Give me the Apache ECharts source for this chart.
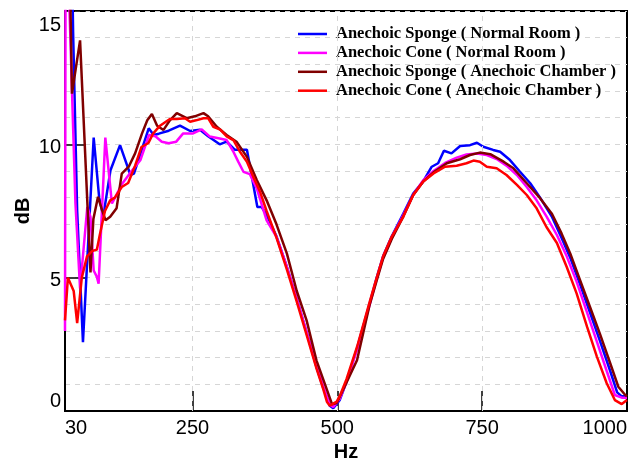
<!DOCTYPE html>
<html>
<head>
<meta charset="utf-8">
<script src="https://cdn.jsdelivr.net/npm/echarts@6/dist/echarts.min.js"></script>
<style>
html,body{margin:0;padding:0;background:#fff;}
#chart{width:636px;height:459px;}
</style>
</head>
<body>
<div id="chart"></div>
<script>
// ---- data (Hz, dB) ----
const seriesNames = [
  'Anechoic Sponge ( Normal Room )',
  'Anechoic Cone ( Normal Room )',
  'Anechoic Sponge ( Anechoic Chamber )',
  'Anechoic Cone ( Anechoic Chamber )'
];
const seriesColors = ['#0000ff', '#ff00ff', '#800000', '#ff0000'];
const xLabelValues = [30, 250, 500, 750, 1000];
const xTickValues = [250, 500, 750];

const spongeNormalRoom = [[30,17],[42,17],[44,14.2],[51,7.5],[61,2.58],[79.5,10.25],[89,8.0],[96,7.3],[108.5,9.03],[111,9.0],[125,9.97],[143,8.85],[149,8.9],[174.5,10.6],[183,10.35],[192,10.4],[209,10.51],[228.5,10.7],[246,10.5],[263,10.55],[277,10.3],[297,10.0],[309,10.1],[323,9.8],[344,9.8],[347,9.75],[362,7.65],[369.5,7.65],[378,7.35],[395,6.55],[413,5.4],[430,4.2],[447,2.95],[464,1.65],[476,0.85],[487,0.2],[493,0.1],[504,0.4],[516,1.1],[534,2.35],[556,4.05],[568,5.0],[579,5.8],[594,6.55],[614,7.4],[631,8.15],[648,8.6],[663,9.16],[674,9.29],[684,9.76],[697,9.66],[712,9.94],[729,9.97],[741,10.06],[752,9.91],[769,9.79],[781,9.72],[798,9.41],[815,8.98],[833,8.54],[850,8.0],[870,7.3],[887,6.5],[902,5.75],[919,4.75],[936,3.7],[953,2.65],[971,1.5],[983,0.7],[991,0.55],[1000,0.55]];

const coneNormalRoom = [[30,3.0],[31,17],[35,17],[48,7.8],[56,4.6],[68.5,7.65],[74,7.28],[79.5,5.27],[85,5.03],[88,4.77],[99.6,10.25],[111,7.78],[117,8.03],[128,8.5],[145,9.0],[160,9.4],[175,10.35],[186,10.3],[197,10.1],[209,10.04],[222,10.1],[234,10.41],[251,10.41],[266,10.56],[280,10.29],[297,10.22],[309,10.16],[320,9.75],[329,9.35],[338,8.97],[349,8.88],[361,8.35],[378,7.15],[395,6.53],[413,5.4],[430,4.2],[447,2.95],[464,1.7],[476,0.9],[487,0.25],[493,0.15],[504,0.45],[516,1.1],[534,2.3],[556,4.0],[568,4.95],[579,5.75],[594,6.5],[614,7.35],[631,8.1],[648,8.65],[666,9.0],[686,9.3],[706,9.5],[723,9.62],[741,9.66],[758,9.6],[775,9.45],[792,9.2],[810,8.85],[827,8.4],[844,7.9],[861,7.3],[879,6.6],[896,5.8],[913,4.85],[931,3.7],[948,2.6],[965,1.5],[979,0.6],[991,0.5],[1000,0.5]];

const spongeChamber = [[30,17],[38,17],[42,11.9],[56,13.9],[74,5.2],[79,7.2],[87,8.03],[94,7.53],[100,7.15],[108,7.28],[119,7.6],[128,8.9],[140,9.16],[151,9.66],[163,10.41],[172,10.9],[180,11.14],[189,10.7],[200,10.54],[211,10.9],[223,11.17],[240,10.98],[254,11.05],[269,11.17],[277,11.05],[292,10.66],[309,10.35],[326,10.1],[344,9.53],[361,8.66],[378,7.9],[395,7.0],[413,5.9],[430,4.5],[447,3.4],[464,1.9],[482,0.8],[491,0.25],[499,0.3],[510,0.8],[534,1.9],[556,4.0],[568,4.9],[579,5.7],[594,6.45],[614,7.3],[631,8.1],[648,8.6],[666,8.95],[689,9.29],[712,9.44],[729,9.6],[746,9.69],[764,9.63],[787,9.35],[804,9.1],[827,8.54],[850,7.98],[870,7.41],[887,6.66],[902,5.91],[919,4.91],[936,3.91],[953,2.91],[971,1.79],[985,0.91],[997,0.6],[1000,0.55]];

const coneChamber = [[30,3.4],[35,5.0],[45,4.5],[51,3.3],[59,5.0],[68,5.8],[77,6.0],[85,6.05],[90,6.6],[99,7.5],[108,7.9],[116,8.0],[128,8.4],[139,8.55],[151,9.2],[162,9.9],[174,10.05],[182,10.4],[194,10.7],[211,10.95],[223,10.95],[237,10.98],[246,10.85],[256,10.9],[269,10.98],[277,10.98],[286,10.66],[298,10.55],[309,10.3],[321,10.15],[332,9.72],[344,9.35],[355,8.78],[367,8.2],[378,7.5],[395,6.5],[413,5.3],[430,4.1],[447,2.85],[464,1.6],[476,0.8],[482,0.35],[487,0.2],[499,0.35],[505,0.6],[516,1.2],[534,2.4],[556,4.1],[568,5.0],[579,5.8],[594,6.54],[614,7.29],[631,8.1],[648,8.6],[666,8.91],[686,9.16],[706,9.2],[723,9.29],[735,9.39],[746,9.35],[758,9.16],[775,9.1],[792,8.85],[810,8.48],[827,8.1],[844,7.6],[861,6.9],[879,6.3],[896,5.4],[913,4.41],[931,3.16],[948,2.04],[965,1.04],[979,0.41],[991,0.26],[1000,0.41]];

const allData = [spongeNormalRoom, coneNormalRoom, spongeChamber, coneChamber];

const chart = echarts.init(document.getElementById('chart'), null, {renderer: 'canvas'});
const sans = 'Liberation Sans, Arial, sans-serif';
const gridDash = {color: '#d6d6d6', type: [5, 5], width: 1};
const lbl = {fontFamily: sans, fontSize: 20, color: '#000'};

const series = allData.map(function (d, i) {
  return {
    name: seriesNames[i], type: 'line', data: d,
    symbol: 'none', showSymbol: false, smooth: false, clip: true,
    lineStyle: {color: seriesColors[i], width: 2.5},
    itemStyle: {color: seriesColors[i]},
    z: 3 + i
  };
});
// vertical dashed grid lines at the x tick values
series.unshift({
  name: 'grid', type: 'line', data: [[30, -5], [1000, -5]], z: 1, silent: true,
  symbol: 'none', lineStyle: {opacity: 0},
  markLine: {
    silent: true, symbol: 'none', animation: false,
    label: {show: false},
    lineStyle: gridDash,
    data: xTickValues.map(function (v) { return {xAxis: v}; })
  }
});

chart.setOption({
  backgroundColor: '#fff',
  animation: false,
  grid: {left: 65, right: 9, top: 11, bottom: 48, show: true, borderColor: '#000', borderWidth: 2,
    backgroundColor: 'transparent', containLabel: false, outerBoundsMode: 'none'},
  legend: {
    orient: 'vertical', left: 293, top: 20.5,
    icon: 'rect',
    itemWidth: 29, itemHeight: 2.5, itemGap: 1.9,
    data: seriesNames,
    textStyle: {fontFamily: 'Liberation Serif, Times New Roman, serif', fontWeight: 'bold', fontSize: 16.5, lineHeight: 17, color: '#000', padding: [0,0,0,4]}
  },
  xAxis: {
    type: 'value', min: 30, max: 1000,
    name: 'Hz', nameLocation: 'middle', nameGap: 31, nameMoveOverlap: false,
    nameTextStyle: {fontFamily: sans, fontWeight: 'bold', fontSize: 20, color: '#000'},
    axisLine: {lineStyle: {color: '#000', width: 2}},
    axisTick: {inside: true, length: 20, lineStyle: {color: '#000', width: 1.5}, customValues: xTickValues},
    axisLabel: {customValues: xLabelValues, fontFamily: sans, fontSize: 20, color: '#000', margin: 7,
      alignMinLabel: 'left', alignMaxLabel: 'right',
      formatter: function (v) { return String(v); }},
    splitLine: {show: false}
  },
  yAxis: {
    type: 'value', min: 0, max: 15, interval: 5,
    name: 'dB', nameLocation: 'middle', nameGap: 32, nameRotate: 90, nameMoveOverlap: false,
    nameTextStyle: {fontFamily: sans, fontWeight: 'bold', fontSize: 20, color: '#000'},
    axisLine: {lineStyle: {color: '#000', width: 2}},
    axisTick: {inside: true, length: 21, lineStyle: {color: '#000', width: 1.5}},
    minorTick: {show: false, splitNumber: 5},
    minorSplitLine: {show: true, lineStyle: gridDash},
    axisLabel: {
      fontFamily: sans, fontSize: 20, color: '#000', margin: 4,
      formatter: function (v) {
        if (v === 0) return '{lo|0}';
        if (v === 15) return '{hi|15}';
        return '{mid|' + v + '}';
      },
      rich: {
        lo: Object.assign({padding: [0, 0, 20, 0]}, lbl),
        mid: Object.assign({padding: [6, 0, 0, 0]}, lbl),
        hi: Object.assign({padding: [28, 0, 0, 0]}, lbl)
      }
    },
    splitLine: {show: true, lineStyle: gridDash}
  },
  series: series
});
</script>
</body>
</html>
